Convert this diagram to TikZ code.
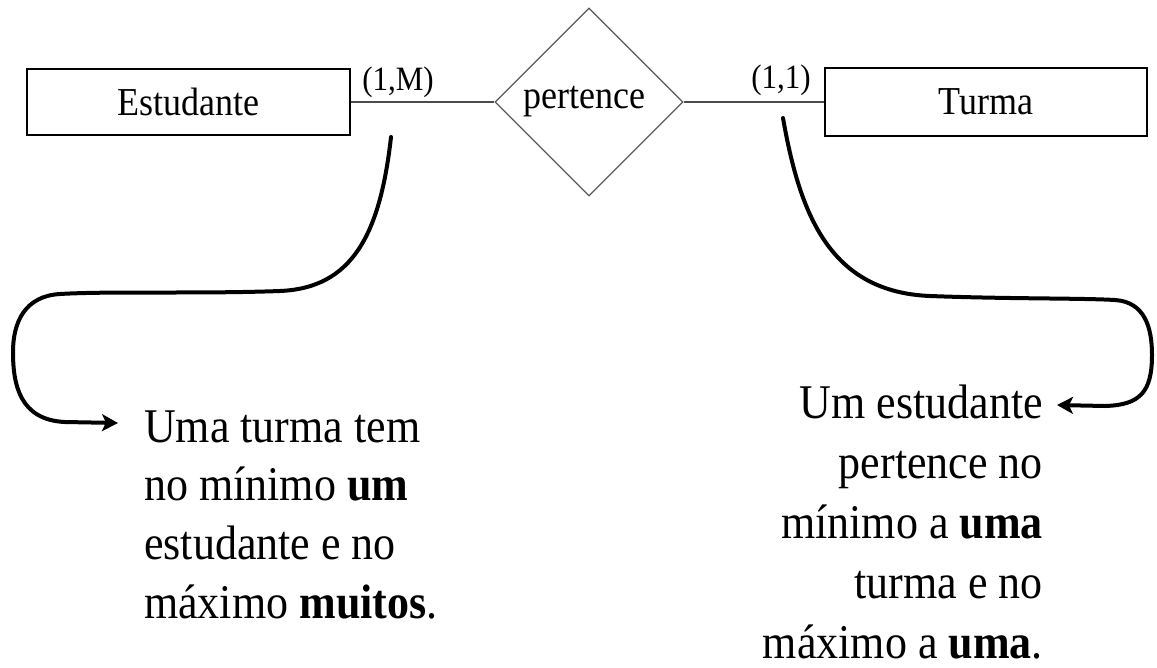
\documentclass[tikz,border=0pt]{standalone}
\usepackage{fontspec}
\usepackage{graphicx}
\setmainfont{Liberation Serif}
\usetikzlibrary{shapes.geometric,arrows.meta}

% slightly tall lettering
\newcommand\tallText[1]{\scalebox{1}[1.1]{#1}}

\tikzset{
  entity/.style={draw=black, line width=1.2pt, inner sep=0pt,
    minimum width=323pt, minimum height=66pt,
    font=\fontsize{36}{40}\selectfont},
  relation/.style={diamond, draw=black!65, line width=1.2pt, inner sep=0pt,
    minimum width=188pt, minimum height=188pt,
    font=\fontsize{36}{40}\selectfont},
  link/.style={draw=black!70, line width=1.2pt},
  card/.style={inner sep=0pt, font=\fontsize{31}{34}\selectfont},
  note/.style={inner sep=0pt, transform shape, yscale=1.1},
  pointer/.style={line width=4pt, line cap=round,
    -{Stealth[length=16pt,width=17pt,inset=4pt]}}
}

\begin{document}
\begin{tikzpicture}[x=1pt, y=-1pt]
  \path[use as bounding box] (0,0) rectangle (1157,667);

  % entities and relationship
  \node[entity] (est) at (188.5,102) {\tallText{Estudante}};
  \node[relation] (rel) at (589,102) {\hspace*{-10pt}\tallText{pertence}};
  \node[entity, minimum width=322pt, minimum height=68pt] (tur) at (986,102) {\tallText{Turma}};

  \draw[link] (est.east) -- (rel.west);
  \draw[link] (rel.east) -- (tur.west);

  % cardinalities
  \node[card] (cm) at (398,82) {\tallText{(1,M)}};
  \node[card] (c1) at (781,80) {\tallText{(1,1)}};

  % explanatory notes (anchored on the baseline of their last line)
  \node[note, anchor=base west, align=left, font=\fontsize{44}{53.2}\selectfont] (ln) at (144,618)
    {Uma turma tem\\no mínimo \textbf{um}\\estudante e no\\máximo \textbf{muitos}.};
  \node[note, anchor=base east, align=right, font=\fontsize{44}{54.5}\selectfont] (rn) at (1043,658)
    {Um estudante\\pertence no\\mínimo a \textbf{uma}\\turma e no\\máximo a \textbf{uma}.};

  % curved pointers from the cardinalities to the notes
  \coordinate (ls) at (391,137);
  \coordinate (lt) at (118,423);
  \coordinate (rs) at (783,118);
  \coordinate (rt) at (1057,405);

  \draw[pointer] (ls) .. controls (380,235) and (352,288) .. (280,291)
    .. controls (200,294) and (110,291) .. (60,294)
    .. controls (25,296) and (13,322) .. (13,352)
    .. controls (13,385) and (20,420) .. (65,422)
    -- (lt);
  \draw[pointer] (rs) .. controls (800,215) and (830,292) .. (930,296)
    .. controls (1010,299) and (1080,298) .. (1115,300)
    .. controls (1145,302) and (1152,328) .. (1152,355)
    .. controls (1152,392) and (1140,405) .. (1105,406)
    -- (rt);
\end{tikzpicture}
\end{document}
